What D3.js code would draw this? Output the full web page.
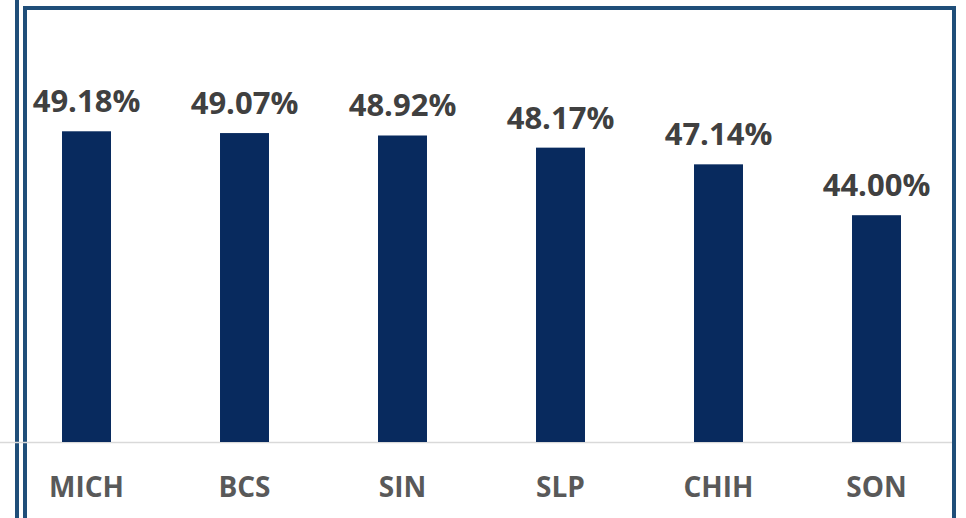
<!DOCTYPE html>
<html><head><meta charset="utf-8">
<script src="https://cdn.jsdelivr.net/npm/d3@7"></script>
<style>html,body{margin:0;padding:0;background:#fff;overflow:hidden}</style>
</head><body>
<svg id="c" width="966" height="518"></svg>
<script>
const categories = ["MICH","BCS","SIN","SLP","CHIH","SON"];
const values = [49.18, 49.07, 48.92, 48.17, 47.14, 44.00];
const valueLabels = ["49.18%","49.07%","48.92%","48.17%","47.14%","44.00%"];

const svg = d3.select("#c");
const W = 966, H = 518;
const baseY = 442;

const x = d3.scaleBand().domain(categories).range([7.5, 955.5]).paddingInner(0.69).paddingOuter(0.345);
const y = d3.scaleLinear().domain([30, 50]).range([baseY, 118]);

// frame
svg.append("line").attr("x1",17).attr("x2",17).attr("y1",0).attr("y2",H)
  .attr("stroke","#1f4e79").attr("stroke-width",4);
svg.append("path").attr("d",`M25,${H+5}V8H954V${H+5}`).attr("fill","none")
  .attr("stroke","#1f4e79").attr("stroke-width",4);

// baseline
svg.append("line").attr("x1",0).attr("x2",952).attr("y1",baseY+0.5).attr("y2",baseY+0.5)
  .attr("stroke","#d9d9d9").attr("stroke-width",1.5);

const data = categories.map((c,i)=>({c, v: values[i], l: valueLabels[i]}));

svg.selectAll("rect.bar").data(data).enter().append("rect").attr("class","bar")
  .attr("x", d=>x(d.c)).attr("width", x.bandwidth())
  .attr("y", d=>y(d.v)).attr("height", d=>baseY - y(d.v))
  .attr("fill","#082a5e");

svg.selectAll("text.val").data(data).enter().append("text").attr("class","val")
  .attr("x", d=>x(d.c)+x.bandwidth()/2).attr("y", d=>y(d.v)-19)
  .attr("text-anchor","middle")
  .attr("font-family","'Open Sans', sans-serif").attr("font-weight","bold")
  .attr("font-size",31).attr("fill","#404040").text(d=>d.l);

const xAxis = d3.axisBottom(x).tickSize(0).tickPadding(0);
const g = svg.append("g").attr("transform",`translate(0,${baseY})`).call(xAxis);
g.select(".domain").remove();
g.selectAll("text").attr("y",55).attr("dy",0)
  .attr("font-family","'Open Sans', sans-serif").attr("font-weight","bold")
  .attr("font-size",28).attr("fill","#595959");
</script>
</body></html>
